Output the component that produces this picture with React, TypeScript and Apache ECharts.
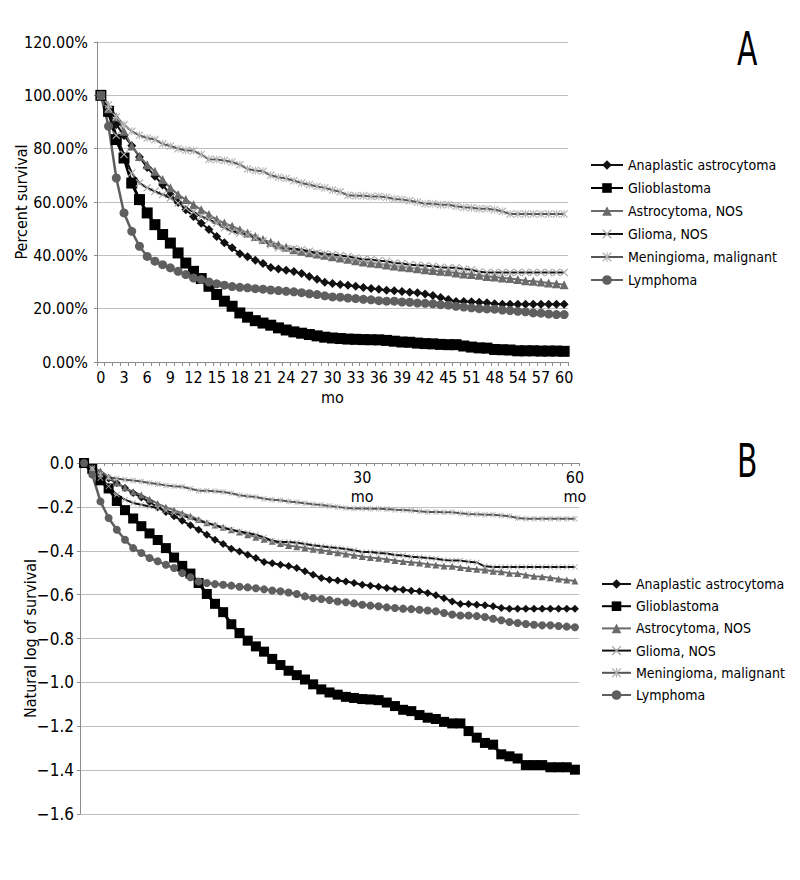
import React, { useEffect, useRef } from "react";
import * as echarts from "echarts";

const FONT = "'DejaVu Sans Condensed', 'Liberation Sans Narrow', 'Roboto', sans-serif";

// Month categories (panel A shows the original, slightly out-of-order tick text)
const monthsA = [
  "0","1","2","3","4","5","6","7","8","9","10","11","12","13","14","15","16","17","18","19",
  "20","21","22","23","24","25","26","27","28","29","30","31","32","33","34","35","36","37","38","39",
  "40","41","42","43","44","45","46","47","51","49","50","48","52","53","54","55","56","57","58","59","60",
];
const monthsB = [
  "0","1","2","3","4","5","6","7","8","9","10","11","12","13","14","15","16","17","18","19",
  "20","21","22","23","24","25","26","27","28","29","30","31","32","33","34","35","36","37","38","39",
  "40","41","42","43","44","45","46","47","48","49","50","51","52","53","54","55","56","57","58","59","60",
];
// Panel B tick labels: category index where the label sits, and its text
const bTickIndex = [34, 60];
const bTickText = ["30", "60"];

const seriesNames = [
  "Anaplastic astrocytoma",
  "Glioblastoma",
  "Astrocytoma, NOS",
  "Glioma, NOS",
  "Meningioma, malignant",
  "Lymphoma",
];

// Panel A: percent survival
const anaplasticA = [100,93.3,89.1,84.9,81.1,76.9,72.9,69.7,66.4,62.8,59.8,57.1,54.6,52,49.7,47.1,44.7,42.8,40.6,39.5,38.2,36.9,35.4,34.9,34.4,33.9,33.2,32.1,31,29.9,29.4,29.1,28.8,28.4,27.9,27.6,27.3,26.9,26.7,26.4,26.2,26,25.5,24.9,24.2,23.4,22.7,22.7,22.6,22.4,22.2,21.8,21.7,21.7,21.7,21.7,21.7,21.7,21.7,21.7,21.7];
const glioblastomaA = [100,94,83.4,76.5,67.1,60.9,55.9,51.5,47.8,44.6,40.9,37.1,34,31.3,28.4,25.3,22.8,20.9,18.4,16.8,15.5,14.6,13.8,12.8,12,11.3,10.8,10.3,9.8,9.3,9,8.8,8.6,8.5,8.4,8.35,8.3,8.1,7.8,7.5,7.4,7.1,6.9,6.8,6.6,6.5,6.5,6,5.6,5.3,5.2,4.7,4.6,4.5,4.2,4.2,4.2,4.1,4.1,4.1,4];
const astrocytomaA = [100,95,92,86.5,81,77.1,74,71.5,68.4,65.3,62.8,60.9,59,57.1,55.3,53.4,52.1,50.9,49.6,48.4,47.1,45.9,44.9,44,43,42.1,41.5,41,40.5,40,39.5,39,38.5,38,37.5,37.1,36.8,36.4,36,35.6,35.3,35,34.6,34.3,34,33.8,33.4,33,32.8,32.5,32.1,31.9,31.5,31.3,30.9,30.5,30.3,30,29.6,29.3,29];
const gliomaA = [100,95,85,77.8,70.9,67.1,65.3,64,62.8,61.5,59.6,57.8,56.3,54.6,53.4,52.1,50.3,49,48.4,47.8,46.5,45.5,44,42.8,42.5,42.5,42.1,41.5,40.9,40.5,40.3,39.9,39.6,39,38.4,38.4,38,37.8,37.1,36.9,36.5,36.3,36.1,35.9,35.5,35.3,35.3,34.9,34.6,33.8,33.6,33.6,33.6,33.6,33.6,33.6,33.6,33.6,33.6,33.6,33.6];
const meningiomaA = [100,96.5,92,89,86.5,85,84,83.4,81.8,81,80,79.4,79.2,77.8,76,75.9,75.6,75,74,72.4,71.8,71.5,70,69.3,68.8,68,67.1,66.5,65.8,65.3,64.5,63.8,62.5,62.3,62.3,62.1,62.1,61.8,61.1,60.9,60.5,60,59.3,59.3,59,59,58.4,58,57.8,57.5,57.5,57.1,56.5,55.5,55.5,55.5,55.5,55.5,55.5,55.5,55.5];
const lymphomaA = [100,88.4,69,55.9,49,43.4,39.6,37.8,36.5,35.3,34,32.8,31.5,30.9,30,29.3,28.8,28.3,28,27.8,27.5,27.3,27,26.8,26.5,26.3,26,25.6,25.3,24.8,24.4,24.3,24,23.8,23.5,23.3,23,22.8,22.8,22.5,22.4,22.1,22,21.8,21.5,21.3,20.9,20.6,20.3,20,19.9,19.8,19.5,19.3,19,18.8,18.4,18.3,18,17.8,17.8];

// Panel B: log of survival
const anaplasticB = [0,-0.03,-0.05,-0.071,-0.091,-0.114,-0.137,-0.157,-0.178,-0.202,-0.223,-0.243,-0.263,-0.284,-0.304,-0.327,-0.35,-0.369,-0.391,-0.403,-0.418,-0.433,-0.451,-0.457,-0.464,-0.47,-0.479,-0.494,-0.509,-0.524,-0.532,-0.536,-0.54,-0.547,-0.555,-0.559,-0.564,-0.57,-0.574,-0.578,-0.582,-0.585,-0.593,-0.603,-0.616,-0.631,-0.643,-0.643,-0.646,-0.649,-0.653,-0.661,-0.664,-0.664,-0.664,-0.664,-0.664,-0.664,-0.664,-0.664,-0.664];
const glioblastomaB = [0,-0.027,-0.079,-0.116,-0.173,-0.215,-0.253,-0.288,-0.321,-0.351,-0.388,-0.431,-0.469,-0.504,-0.547,-0.597,-0.642,-0.68,-0.735,-0.775,-0.81,-0.836,-0.86,-0.893,-0.921,-0.947,-0.967,-0.987,-1.009,-1.032,-1.046,-1.056,-1.066,-1.071,-1.076,-1.078,-1.081,-1.092,-1.108,-1.125,-1.131,-1.149,-1.161,-1.167,-1.18,-1.187,-1.187,-1.222,-1.252,-1.276,-1.284,-1.328,-1.337,-1.347,-1.377,-1.377,-1.377,-1.387,-1.387,-1.387,-1.398];
const astrocytomaB = [0,-0.022,-0.036,-0.063,-0.091,-0.113,-0.131,-0.146,-0.165,-0.185,-0.202,-0.215,-0.229,-0.243,-0.257,-0.272,-0.283,-0.293,-0.304,-0.315,-0.327,-0.338,-0.348,-0.357,-0.367,-0.376,-0.382,-0.387,-0.393,-0.398,-0.403,-0.409,-0.415,-0.42,-0.426,-0.431,-0.434,-0.439,-0.444,-0.449,-0.452,-0.456,-0.461,-0.465,-0.469,-0.471,-0.476,-0.481,-0.484,-0.488,-0.493,-0.496,-0.502,-0.504,-0.51,-0.516,-0.519,-0.523,-0.529,-0.533,-0.538];
const gliomaB = [0,-0.023,-0.068,-0.106,-0.144,-0.167,-0.182,-0.19,-0.198,-0.205,-0.217,-0.228,-0.239,-0.251,-0.263,-0.274,-0.284,-0.296,-0.304,-0.312,-0.319,-0.327,-0.339,-0.354,-0.36,-0.36,-0.363,-0.369,-0.375,-0.38,-0.384,-0.388,-0.392,-0.398,-0.406,-0.406,-0.41,-0.413,-0.419,-0.422,-0.427,-0.43,-0.433,-0.436,-0.442,-0.445,-0.445,-0.45,-0.454,-0.471,-0.474,-0.474,-0.474,-0.474,-0.474,-0.474,-0.474,-0.474,-0.474,-0.474,-0.474];
const meningiomaB = [0,-0.03,-0.053,-0.065,-0.071,-0.076,-0.08,-0.084,-0.091,-0.096,-0.102,-0.106,-0.108,-0.117,-0.126,-0.126,-0.129,-0.132,-0.138,-0.147,-0.152,-0.155,-0.163,-0.167,-0.17,-0.175,-0.179,-0.184,-0.188,-0.191,-0.196,-0.2,-0.205,-0.207,-0.207,-0.208,-0.208,-0.21,-0.213,-0.214,-0.217,-0.22,-0.223,-0.223,-0.225,-0.225,-0.229,-0.233,-0.234,-0.236,-0.236,-0.239,-0.243,-0.251,-0.254,-0.254,-0.254,-0.254,-0.254,-0.254,-0.254];
const lymphomaB = [0,-0.053,-0.175,-0.251,-0.304,-0.35,-0.388,-0.41,-0.433,-0.448,-0.464,-0.479,-0.502,-0.521,-0.54,-0.547,-0.552,-0.555,-0.559,-0.564,-0.567,-0.571,-0.576,-0.581,-0.585,-0.59,-0.597,-0.608,-0.616,-0.62,-0.625,-0.631,-0.635,-0.64,-0.646,-0.65,-0.653,-0.658,-0.661,-0.664,-0.666,-0.669,-0.672,-0.676,-0.684,-0.691,-0.695,-0.695,-0.698,-0.702,-0.71,-0.717,-0.725,-0.729,-0.734,-0.737,-0.74,-0.74,-0.743,-0.746,-0.749];

const dataA = [anaplasticA, glioblastomaA, astrocytomaA, gliomaA, meningiomaA, lymphomaA];
const dataB = [anaplasticB, glioblastomaB, astrocytomaB, gliomaB, meningiomaB, lymphomaB];

const X_SYMBOL = "path://M1,0 L5,4 L9,0 L10,1 L6,5 L10,9 L9,10 L5,6 L1,10 L0,9 L4,5 L0,1 Z";
const STAR_SYMBOL =
  "path://M1,0 L5,4 L9,0 L10,1 L6,5 L10,9 L9,10 L5,6 L1,10 L0,9 L4,5 L0,1 Z M4.4,0 L5.6,0 L5.6,10 L4.4,10 Z";

const styles = [
  { line: "#111111", width: 2, symbol: "diamond", fill: "#111111", sizeA: 9, sizeB: 8 },
  { line: "#000000", width: 3, symbol: "rect", fill: "#000000", sizeA: 11, sizeB: 10 },
  { line: "#6b6b6b", width: 2, symbol: "triangle", fill: "#6b6b6b", sizeA: 9, sizeB: 7 },
  { line: "#111111", width: 2, symbol: X_SYMBOL, fill: "#a8a8a8", sizeA: 8, sizeB: 6 },
  { line: "#555555", width: 2, symbol: STAR_SYMBOL, fill: "#b4b4b4", sizeA: 8, sizeB: 6 },
  { line: "#5f5f5f", width: 2.5, symbol: "circle", fill: "#5f5f5f", sizeA: 9, sizeB: 8 },
];

function makeSeries(data: number[][], panel: number) {
  return data.map((d, i) => {
    const s = styles[i];
    return {
      type: "line",
      name: seriesNames[i],
      xAxisIndex: panel,
      yAxisIndex: panel,
      data: d,
      symbol: s.symbol,
      symbolSize: panel === 0 ? s.sizeA : s.sizeB,
      showAllSymbol: true,
      lineStyle: { color: s.line, width: s.width },
      itemStyle: { color: s.fill, borderWidth: 0 },
      emphasis: { disabled: true },
    };
  });
}

export default function App() {
  const ref = useRef<HTMLDivElement>(null);
  useEffect(() => {
    if (!ref.current) return;
    const chart = echarts.init(ref.current, null, { renderer: "svg" });
    const axisColor = "#8c8c8c";
    const gridColor = "#c0c0c0";
    const option = {
      animation: false,
      backgroundColor: "#ffffff",
      textStyle: { fontFamily: FONT, color: "#000" },
      graphic: [
        { type: "text", left: 737, top: 26, scaleX: 0.72, style: { text: "A", fontSize: 46, fontFamily: FONT, fill: "#000" } },
        { type: "text", left: 737, top: 438, scaleX: 0.72, style: { text: "B", fontSize: 46, fontFamily: FONT, fill: "#000" } },
      ],
      grid: [
        { left: 97, top: 42, width: 471, height: 320, outerBoundsMode: "none", containLabel: false },
        { left: 80, top: 463, width: 499, height: 351, outerBoundsMode: "none", containLabel: false },
      ],
      xAxis: [
        {
          type: "category",
          gridIndex: 0,
          data: monthsA,
          boundaryGap: true,
          axisLine: { lineStyle: { color: axisColor, width: 1 } },
          axisTick: { show: true, interval: 0, length: 4, lineStyle: { color: axisColor } },
          axisLabel: { interval: 2, fontSize: 16, color: "#000", margin: 7, fontFamily: FONT },
          splitLine: { show: false },
          name: "mo",
          nameLocation: "middle",
          nameGap: 27,
          nameMoveOverlap: false,
          nameTextStyle: { fontSize: 16, color: "#000", fontFamily: FONT },
        },
        {
          type: "category",
          gridIndex: 1,
          position: "top",
          data: monthsB,
          boundaryGap: true,
          axisLine: { lineStyle: { color: axisColor, width: 1 } },
          axisTick: { show: true, inside: true, interval: 0, length: 3, lineStyle: { color: axisColor } },
          axisLabel: {
            inside: true,
            interval: (idx: number) => bTickIndex.includes(idx),
            formatter: (_v: string, idx: number) => {
              const k = bTickIndex.indexOf(idx);
              return k >= 0 ? bTickText[k] + "\nmo" : "";
            },
            fontSize: 16,
            lineHeight: 19,
            color: "#000",
            margin: 5,
            fontFamily: FONT,
          },
          splitLine: { show: false },
        },
      ],
      yAxis: [
        {
          type: "value",
          gridIndex: 0,
          min: 0,
          max: 120,
          interval: 20,
          axisLine: { show: true, lineStyle: { color: axisColor } },
          axisTick: { show: true, length: 3, lineStyle: { color: axisColor } },
          splitLine: { lineStyle: { color: gridColor, width: 1 } },
          axisLabel: {
            formatter: (v: number) => v.toFixed(2) + "%",
            fontSize: 16,
            color: "#000",
            margin: 9,
            fontFamily: FONT,
          },
          name: "Percent survival",
          nameLocation: "middle",
          nameRotate: 90,
          nameGap: 68,
          nameMoveOverlap: false,
          nameTextStyle: { fontSize: 16, color: "#000", fontFamily: FONT },
        },
        {
          type: "value",
          gridIndex: 1,
          min: -1.6,
          max: 0,
          interval: 0.2,
          axisLine: { show: true, lineStyle: { color: axisColor } },
          axisTick: { show: true, length: 3, lineStyle: { color: axisColor } },
          splitLine: { lineStyle: { color: gridColor, width: 1 } },
          axisLabel: {
            formatter: (v: number) => (Math.abs(v) < 1e-9 ? "0.0" : "\u2212" + Math.abs(v).toFixed(1)),
            fontSize: 17,
            color: "#000",
            margin: 6,
            fontFamily: FONT,
          },
          name: "Natural log of survival",
          nameLocation: "middle",
          nameRotate: 90,
          nameGap: 42,
          nameMoveOverlap: false,
          nameTextStyle: { fontSize: 16, color: "#000", fontFamily: FONT },
        },
      ],
      legend: [
        {
          data: seriesNames,
          orient: "vertical",
          left: 590,
          top: 157,
          padding: 0,
          itemWidth: 32,
          itemHeight: 12,
          itemGap: 7,
          selectedMode: false,
          textStyle: { fontSize: 14, lineHeight: 16, color: "#000", fontFamily: FONT },
        },
        {
          data: seriesNames,
          orient: "vertical",
          left: 601,
          top: 576,
          padding: 0,
          itemWidth: 29,
          itemHeight: 12,
          itemGap: 6.2,
          selectedMode: false,
          textStyle: { fontSize: 14, lineHeight: 16, color: "#000", fontFamily: FONT },
        },
      ],
      series: [...makeSeries(dataA, 0), ...makeSeries(dataB, 1)],
    };
    chart.setOption(option as any);
    return () => chart.dispose();
  }, []);
  return (
    <div
      ref={ref}
      style={{ position: "absolute", left: 0, top: 0, width: 800, height: 880, background: "#fff" }}
    />
  );
}
